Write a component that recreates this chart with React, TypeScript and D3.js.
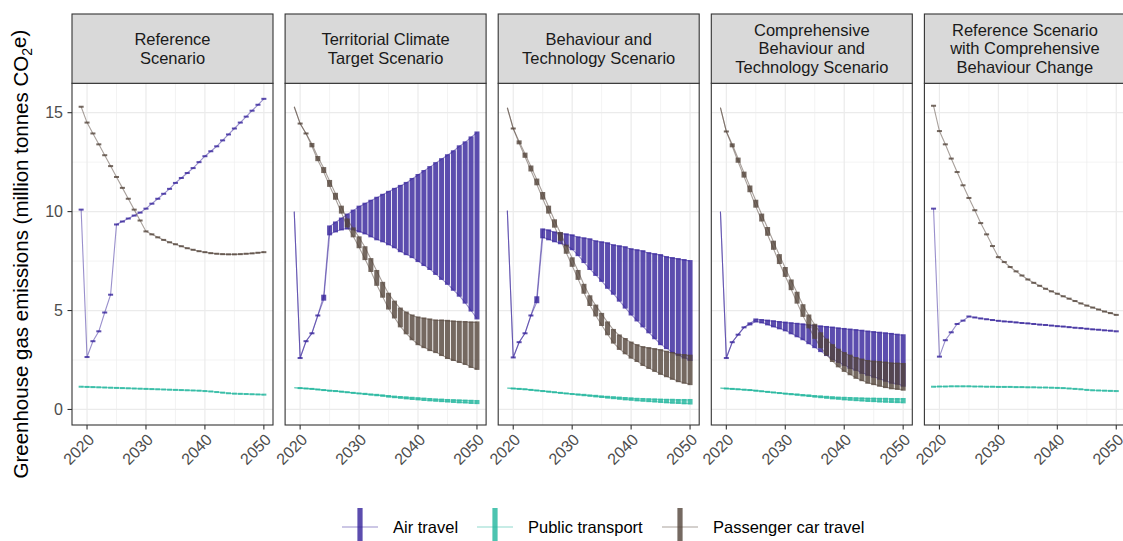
import React from 'react';
import * as d3 from 'd3';

// ---------------- DATA ----------------
const years = [2019, 2020, 2021, 2022, 2023, 2024, 2025, 2026, 2027, 2028, 2029, 2030, 2031, 2032, 2033, 2034,
  2035, 2036, 2037, 2038, 2039, 2040, 2041, 2042, 2043, 2044, 2045, 2046, 2047, 2048, 2049, 2050];

const scenarioStrips = [
  ['Reference', 'Scenario'],
  ['Territorial Climate', 'Target Scenario'],
  ['Behaviour and', 'Technology Scenario'],
  ['Comprehensive', 'Behaviour and', 'Technology Scenario'],
  ['Reference Scenario', 'with Comprehensive', 'Behaviour Change'],
];
const seriesNames = ['Air travel', 'Public transport', 'Passenger car travel'];
const seriesColors = ['#33209a', '#1fb59c', '#53443a'];
const barStartYear = [2019, 2020, 2020, 2020, 2019];
const xTicks = [2020, 2030, 2040, 2050];
const xMinor = [2025, 2035, 2045];
const yTicks = [0, 5, 10, 15];
const yMinor = [2.5, 7.5, 12.5];

// 1 Reference Scenario
const refAir = [10.1, 2.65, 3.45, 3.95, 4.9, 5.8, 9.35, 9.5, 9.65, 9.8, 9.95, 10.15, 10.4, 10.65, 10.9, 11.15, 11.45, 11.7, 11.95, 12.2, 12.5, 12.8, 13.05, 13.3, 13.6, 13.9, 14.2, 14.5, 14.8, 15.1, 15.4, 15.7];
const refPt = [1.15, 1.14, 1.13, 1.12, 1.11, 1.1, 1.09, 1.08, 1.07, 1.06, 1.05, 1.04, 1.03, 1.02, 1.01, 1.0, 0.99, 0.98, 0.97, 0.96, 0.95, 0.93, 0.91, 0.88, 0.85, 0.82, 0.8, 0.79, 0.78, 0.77, 0.76, 0.75];
const refCar = [15.3, 14.5, 13.95, 13.4, 12.85, 12.3, 11.75, 11.2, 10.65, 10.1, 9.55, 9.0, 8.85, 8.7, 8.57, 8.45, 8.35, 8.25, 8.15, 8.07, 8.0, 7.95, 7.9, 7.87, 7.85, 7.84, 7.84, 7.85, 7.87, 7.89, 7.92, 7.95];

// 2 Territorial Climate Target Scenario
const tctAirLo = [10.0, 2.6, 3.45, 3.85, 4.75, 5.55, 8.85, 9.0, 9.1, 9.15, 9.1, 9.0, 8.9, 8.75, 8.6, 8.5, 8.35, 8.2, 8.0, 7.85, 7.7, 7.5, 7.3, 7.1, 6.85, 6.6, 6.35, 6.05, 5.75, 5.4, 5.0, 4.6];
const tctAirHi = [10.0, 2.6, 3.45, 3.85, 4.75, 5.75, 9.25, 9.45, 9.65, 9.85, 10.05, 10.25, 10.4, 10.55, 10.7, 10.85, 11.0, 11.15, 11.3, 11.45, 11.65, 11.85, 12.05, 12.25, 12.45, 12.65, 12.85, 13.05, 13.3, 13.5, 13.75, 14.0];
const tctPtLo = [1.1, 1.08, 1.06, 1.04, 1.01, 0.98, 0.95, 0.93, 0.9, 0.87, 0.84, 0.81, 0.78, 0.75, 0.72, 0.69, 0.65, 0.62, 0.59, 0.56, 0.53, 0.51, 0.48, 0.46, 0.44, 0.42, 0.4, 0.38, 0.36, 0.35, 0.33, 0.32];
const tctPtHi = [1.1, 1.08, 1.06, 1.04, 1.01, 0.98, 0.95, 0.93, 0.9, 0.87, 0.84, 0.81, 0.79, 0.76, 0.74, 0.71, 0.68, 0.65, 0.63, 0.61, 0.59, 0.57, 0.55, 0.53, 0.51, 0.5, 0.48, 0.47, 0.46, 0.45, 0.44, 0.43];
const tctCarLo = [15.3, 14.45, 13.95, 13.3, 12.6, 12.0, 11.3, 10.65, 9.95, 9.25, 8.75, 8.2, 7.6, 7.0, 6.3, 5.7, 5.1, 4.65, 4.2, 3.85, 3.55, 3.3, 3.15, 3.0, 2.9, 2.75, 2.6, 2.5, 2.4, 2.3, 2.15, 2.05];
const tctCarHi = [15.3, 14.45, 13.95, 13.42, 12.76, 12.2, 11.55, 10.9, 10.25, 9.6, 9.15, 8.7, 8.2, 7.6, 7.0, 6.4, 5.85, 5.45, 5.1, 4.9, 4.75, 4.65, 4.6, 4.55, 4.5, 4.5, 4.48, 4.45, 4.43, 4.42, 4.4, 4.4];

// 3 Behaviour and Technology Scenario
const btAirLo = [10.05, 2.63, 3.4, 3.85, 4.75, 5.42, 8.7, 8.6, 8.5, 8.4, 8.3, 8.1, 7.8, 7.45, 7.1, 6.8, 6.5, 6.15, 5.85, 5.5, 5.15, 4.8, 4.5, 4.2, 3.9, 3.6, 3.3, 3.1, 2.9, 2.75, 2.62, 2.5];
const btAirHi = [10.05, 2.63, 3.4, 3.85, 4.75, 5.67, 9.1, 9.05, 8.95, 8.9, 8.85, 8.8, 8.7, 8.65, 8.6, 8.5, 8.45, 8.4, 8.3, 8.25, 8.2, 8.1, 8.05, 8.0, 7.9, 7.85, 7.8, 7.7, 7.65, 7.6, 7.55, 7.5];
const btPtLo = [1.08, 1.06, 1.04, 1.02, 0.99, 0.96, 0.93, 0.9, 0.87, 0.84, 0.81, 0.78, 0.75, 0.72, 0.69, 0.66, 0.63, 0.6, 0.57, 0.54, 0.51, 0.49, 0.46, 0.44, 0.42, 0.4, 0.38, 0.36, 0.34, 0.33, 0.31, 0.3];
const btPtHi = [1.08, 1.06, 1.04, 1.02, 0.99, 0.96, 0.93, 0.9, 0.87, 0.84, 0.81, 0.78, 0.76, 0.74, 0.71, 0.69, 0.66, 0.64, 0.62, 0.6, 0.58, 0.56, 0.54, 0.53, 0.52, 0.51, 0.5, 0.49, 0.49, 0.48, 0.48, 0.48];
const btCarLo = [15.25, 14.2, 13.45, 12.77, 12.08, 11.38, 10.66, 9.95, 9.24, 8.58, 7.92, 7.26, 6.6, 5.9, 5.28, 4.75, 4.27, 3.8, 3.38, 3.06, 2.84, 2.62, 2.45, 2.25, 2.1, 1.95, 1.8, 1.68, 1.55, 1.43, 1.35, 1.28];
const btCarHi = [15.25, 14.2, 13.55, 12.93, 12.28, 11.62, 10.94, 10.25, 9.56, 8.92, 8.28, 7.64, 7.0, 6.3, 5.72, 5.25, 4.83, 4.4, 4.02, 3.74, 3.56, 3.38, 3.25, 3.15, 3.1, 3.05, 3.0, 2.92, 2.85, 2.77, 2.75, 2.72];

// 4 Comprehensive Behaviour and Technology Scenario
const cbtAirLo = [10.0, 2.6, 3.4, 3.78, 4.15, 4.3, 4.45, 4.4, 4.3, 4.2, 4.1, 4.0, 3.85, 3.7, 3.55, 3.35, 3.15, 2.95, 2.75, 2.55, 2.4, 2.25, 2.1, 2.0, 1.85, 1.75, 1.65, 1.55, 1.45, 1.35, 1.3, 1.2];
const cbtAirHi = [10.0, 2.6, 3.4, 3.78, 4.15, 4.35, 4.55, 4.52, 4.49, 4.46, 4.42, 4.39, 4.36, 4.33, 4.3, 4.26, 4.23, 4.2, 4.17, 4.14, 4.1, 4.07, 4.04, 4.01, 3.98, 3.94, 3.91, 3.88, 3.85, 3.82, 3.78, 3.75];
const cbtPtLo = [1.08, 1.06, 1.04, 1.02, 1.0, 0.98, 0.95, 0.92, 0.89, 0.86, 0.83, 0.8, 0.77, 0.74, 0.71, 0.68, 0.65, 0.62, 0.59, 0.56, 0.54, 0.51, 0.49, 0.47, 0.45, 0.43, 0.42, 0.4, 0.39, 0.38, 0.37, 0.36];
const cbtPtHi = [1.08, 1.06, 1.04, 1.02, 1.0, 0.98, 0.95, 0.92, 0.89, 0.86, 0.83, 0.8, 0.78, 0.76, 0.73, 0.71, 0.68, 0.66, 0.64, 0.62, 0.6, 0.59, 0.58, 0.57, 0.56, 0.55, 0.55, 0.54, 0.54, 0.53, 0.53, 0.53];
const cbtCarLo = [15.25, 14.05, 13.3, 12.52, 11.77, 11.03, 10.25, 9.55, 8.83, 8.12, 7.4, 6.75, 6.08, 5.4, 4.73, 4.15, 3.62, 3.15, 2.77, 2.45, 2.18, 1.95, 1.78, 1.6, 1.48, 1.35, 1.28, 1.2, 1.13, 1.07, 1.04, 1.0];
const cbtCarHi = [15.25, 14.05, 13.4, 12.68, 11.97, 11.27, 10.55, 9.85, 9.17, 8.48, 7.8, 7.15, 6.52, 5.9, 5.27, 4.75, 4.28, 3.85, 3.53, 3.25, 3.02, 2.85, 2.72, 2.6, 2.52, 2.45, 2.42, 2.4, 2.37, 2.33, 2.32, 2.3];

// 5 Reference Scenario with Comprehensive Behaviour Change
const rcbAir = [10.15, 2.67, 3.5, 3.9, 4.32, 4.49, 4.7, 4.65, 4.6, 4.56, 4.52, 4.48, 4.45, 4.43, 4.4, 4.37, 4.35, 4.32, 4.29, 4.27, 4.24, 4.21, 4.19, 4.16, 4.13, 4.11, 4.08, 4.05, 4.03, 4.0, 3.98, 3.95];
const rcbPt = [1.15, 1.16, 1.16, 1.17, 1.17, 1.17, 1.17, 1.16, 1.16, 1.15, 1.15, 1.14, 1.14, 1.14, 1.13, 1.13, 1.12, 1.12, 1.11, 1.11, 1.1, 1.09, 1.08, 1.06, 1.04, 1.02, 0.99, 0.97, 0.96, 0.95, 0.94, 0.93];
const rcbCar = [15.35, 14.07, 13.4, 12.68, 12.0, 11.33, 10.69, 10.07, 9.42, 8.85, 8.26, 7.7, 7.45, 7.2, 6.98, 6.77, 6.57, 6.4, 6.25, 6.1, 5.97, 5.85, 5.72, 5.6, 5.48, 5.36, 5.25, 5.15, 5.05, 4.95, 4.87, 4.78];

type Band = { lo: number[]; hi: number[] };
const scenarios: Band[][] = [
  [{ lo: refAir, hi: refAir }, { lo: refPt, hi: refPt }, { lo: refCar, hi: refCar }],
  [{ lo: tctAirLo, hi: tctAirHi }, { lo: tctPtLo, hi: tctPtHi }, { lo: tctCarLo, hi: tctCarHi }],
  [{ lo: btAirLo, hi: btAirHi }, { lo: btPtLo, hi: btPtHi }, { lo: btCarLo, hi: btCarHi }],
  [{ lo: cbtAirLo, hi: cbtAirHi }, { lo: cbtPtLo, hi: cbtPtHi }, { lo: cbtCarLo, hi: cbtCarHi }],
  [{ lo: rcbAir, hi: rcbAir }, { lo: rcbPt, hi: rcbPt }, { lo: rcbCar, hi: rcbCar }],
];

// ---------------- LAYOUT ----------------
const W = 1123;
const H = 541;
const FONT = "'Liberation Sans', Arial, Helvetica, sans-serif";
const stripTop = 14;
const panelTop = 83.3;
const panelBottom = 425;
const panelLeft0 = 72;
const panelW = 201;
const panelStep = 213.1;

export default function App() {
  const allHi = scenarios.flatMap((s) => s.flatMap((b) => b.hi));
  const yMax = d3.max(allHi) as number;
  const yMin = 0;
  const yPad = (yMax - yMin) * 0.05;
  const y = d3.scaleLinear().domain([yMin - yPad, yMax + yPad]).range([panelBottom, panelTop]);
  const x0 = d3.min(years) as number;
  const x1 = d3.max(years) as number;
  const xPad = (x1 - x0) * 0.05;

  const panels = scenarios.map((sc, p) => {
    const left = panelLeft0 + p * panelStep;
    const x = d3.scaleLinear().domain([x0 - xPad, x1 + xPad]).range([left, left + panelW]);
    const bw = (x(2021) - x(2020)) * 0.85;
    const line = d3.line<number>().x((_, i) => x(years[i])).y((v) => y(v));
    const strip = scenarioStrips[p];
    const lh = 18.4;
    const cy = (stripTop + panelTop) / 2;
    return (
      <g key={p}>
        <defs>
          <clipPath id={`clip${p}`}>
            <rect x={left} y={panelTop} width={panelW} height={panelBottom - panelTop} />
          </clipPath>
        </defs>
        {/* panel background + grid */}
        <rect x={left} y={panelTop} width={panelW} height={panelBottom - panelTop} fill="#ffffff" />
        {yMinor.map((v) => (
          <line key={'ym' + v} x1={left} x2={left + panelW} y1={y(v)} y2={y(v)} stroke="#ebebeb" strokeWidth={0.6} />
        ))}
        {xMinor.map((v) => (
          <line key={'xm' + v} x1={x(v)} x2={x(v)} y1={panelTop} y2={panelBottom} stroke="#ebebeb" strokeWidth={0.6} />
        ))}
        {yTicks.map((v) => (
          <line key={'yg' + v} x1={left} x2={left + panelW} y1={y(v)} y2={y(v)} stroke="#ebebeb" strokeWidth={1.2} />
        ))}
        {xTicks.map((v) => (
          <line key={'xg' + v} x1={x(v)} x2={x(v)} y1={panelTop} y2={panelBottom} stroke="#ebebeb" strokeWidth={1.2} />
        ))}
        {/* data */}
        <g clipPath={`url(#clip${p})`}>
          {sc.map((band, s) => {
            const col = seriesColors[s];
            const same = band.lo.every((v, i) => v === band.hi[i]);
            return (
              <g key={s}>
                <path d={line(band.lo) || ''} fill="none" stroke={col} strokeOpacity={0.5} strokeWidth={1.1} />
                {!same && (
                  <path d={line(band.hi) || ''} fill="none" stroke={col} strokeOpacity={0.5} strokeWidth={1.1} />
                )}
                {years.map((yr, i) => {
                  if (yr < barStartYear[p]) return null;
                  const top = y(band.hi[i]) - 1;
                  const bot = y(band.lo[i]) + 1;
                  return (
                    <rect key={yr} x={x(yr) - bw / 2} y={top} width={bw} height={bot - top} fill={col} fillOpacity={0.8} />
                  );
                })}
              </g>
            );
          })}
        </g>
        {/* border */}
        <rect x={left} y={panelTop} width={panelW} height={panelBottom - panelTop} fill="none" stroke="#333333" strokeWidth={1.1} />
        {/* strip */}
        <rect x={left} y={stripTop} width={panelW} height={panelTop - stripTop} fill="#d9d9d9" stroke="#333333" strokeWidth={1.1} />
        {strip.map((t, i) => (
          <text key={i} x={left + panelW / 2} y={cy + (i - (strip.length - 1) / 2) * lh + 5.8} textAnchor="middle"
            fontFamily={FONT} fontSize={16.5} fill="#1a1a1a">{t}</text>
        ))}
        {/* x axis */}
        {xTicks.map((v) => (
          <g key={'xt' + v}>
            <line x1={x(v)} x2={x(v)} y1={panelBottom} y2={panelBottom + 4.5} stroke="#333333" strokeWidth={1.1} />
            <text transform={`translate(${x(v)},${panelBottom + 7.5}) rotate(-45)`} textAnchor="end" dy="0.72em"
              fontFamily={FONT} fontSize={16} fill="#4d4d4d">{v}</text>
          </g>
        ))}
      </g>
    );
  });

  const legendItems = [
    { key: 342, text: 393 },
    { key: 477, text: 528 },
    { key: 662, text: 713 },
  ];
  const legendY = 527;

  return (
    <svg width={W} height={H} style={{ position: 'absolute', left: 0, top: 0, display: 'block' }}
      xmlns="http://www.w3.org/2000/svg">
      <rect x={0} y={0} width={W} height={H} fill="#ffffff" />
      {panels}
      {/* y axis on first panel */}
      {yTicks.map((v) => (
        <g key={'yt' + v}>
          <line x1={panelLeft0 - 4.5} x2={panelLeft0} y1={y(v)} y2={y(v)} stroke="#333333" strokeWidth={1.1} />
          <text x={panelLeft0 - 9} y={y(v)} dy="0.36em" textAnchor="end" fontFamily={FONT} fontSize={16} fill="#4d4d4d">{v}</text>
        </g>
      ))}
      <text transform={`translate(28,${(panelTop + panelBottom) / 2}) rotate(-90)`} textAnchor="middle"
        fontFamily={FONT} fontSize={20.5} fill="#000000">
        Greenhouse gas emissions (million tonnes CO<tspan fontSize={14} dy="0.3em">2</tspan><tspan dy="-0.3em">e)</tspan>
      </text>
      {/* legend */}
      {seriesNames.map((name, i) => {
        const it = legendItems[i];
        const col = seriesColors[i];
        return (
          <g key={name}>
            <line x1={it.key} x2={it.key + 36} y1={legendY} y2={legendY} stroke={col} strokeOpacity={0.5} strokeWidth={1.1} />
            <rect x={it.key + 18 - 2.6} y={legendY - 19} width={5.2} height={40} fill={col} fillOpacity={0.8} />
            <text x={it.text} y={legendY} dy="0.36em" fontFamily={FONT} fontSize={16.5} fill="#000000">{name}</text>
          </g>
        );
      })}
    </svg>
  );
}
